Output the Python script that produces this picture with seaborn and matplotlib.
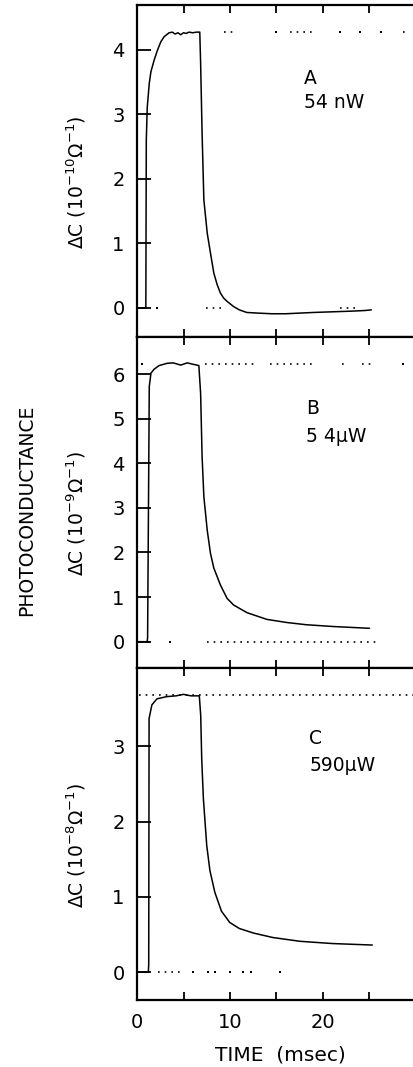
import matplotlib
matplotlib.use("Agg")
import matplotlib.pyplot as plt
import numpy as np
import pandas as pd
import seaborn as sns

# ---------------- data ----------------
tA = [0, 0.95, 1.0, 1.1, 1.32, 1.5, 1.85, 2.2, 2.56, 2.92, 3.45, 3.8, 4.1, 4.4, 4.7, 5.0,
      5.3, 5.6, 6.0, 6.4, 6.75, 6.84, 7.0, 7.19, 7.55, 7.9, 8.26, 8.62, 8.97, 9.33, 9.7,
      10.4, 11.0, 11.8, 13.0, 14.5, 16.0, 17.5, 19.0, 21.0, 23.0, 24.5, 25.2]
vA = [0, 0, 2.6, 3.1, 3.48, 3.66, 3.84, 3.99, 4.12, 4.2, 4.26, 4.27, 4.24, 4.26, 4.23, 4.26,
      4.25, 4.27, 4.26, 4.27, 4.27, 3.8, 2.7, 1.67, 1.16, 0.85, 0.54, 0.36, 0.23, 0.15, 0.1,
      0.02, -0.03, -0.07, -0.08, -0.09, -0.09, -0.08, -0.07, -0.06, -0.05, -0.04, -0.03]

tB = [0, 1.1, 1.14, 1.32, 1.5, 1.85, 2.38, 3.24, 3.9, 4.7, 5.4, 6.0, 6.65, 6.84, 7.0, 7.19,
      7.55, 7.9, 8.26, 8.97, 9.69, 10.4, 11.83, 13.96, 16.1, 18.2, 21.1, 25.0]
vB = [0, 0, 0.1, 5.72, 6.02, 6.11, 6.19, 6.24, 6.25, 6.2, 6.25, 6.22, 6.19, 5.57, 4.15, 3.25,
      2.5, 1.98, 1.65, 1.27, 0.97, 0.82, 0.65, 0.5, 0.43, 0.38, 0.34, 0.3]

tC = [0, 1.22, 1.26, 1.3, 1.6, 2.14, 3.2, 4.2, 5.0, 5.8, 6.7, 6.85, 6.96, 7.14, 7.5, 7.84,
      8.37, 9.08, 9.97, 11.0, 12.5, 14.6, 17.5, 21.0, 25.3]
vC = [0, 0, 0.1, 3.37, 3.55, 3.63, 3.66, 3.67, 3.69, 3.67, 3.67, 3.41, 2.83, 2.3, 1.68, 1.35,
      1.06, 0.81, 0.66, 0.58, 0.52, 0.46, 0.41, 0.38, 0.36]

# dotted reference marks: (level, runs of dots [start, end], single dots)
refA_top_level, refA_top_runs, refA_top_dots = 4.27, [(9.4, 10.7), (16.5, 18.8), (28.6, 29.3)], [15.0, 21.8, 24.0, 26.2]
refA_bot_level, refA_bot_runs, refA_bot_dots = 0.0, [(7.4, 9.0), (21.8, 23.7)], [2.2]
refB_top_level, refB_top_runs, refB_top_dots = 6.22, [(7.3, 12.7), (14.3, 18.8), (22.0, 22.5), (24.2, 25.6)], [0.03, 0.5, 28.6]
refB_bot_level, refB_bot_runs, refB_bot_dots = 0.0, [(7.5, 25.9)], [1.3, 3.6]
refC_top_level, refC_top_runs, refC_top_dots = 3.68, [(0.2, 30.0)], []
refC_bot_level, refC_bot_runs, refC_bot_dots = 0.0, [(2.3, 4.6)], [6.05, 7.67, 8.4, 10.0, 11.45, 12.3, 15.4]

panel_letters = ["A", "B", "C"]
panel_powers = ["54 nW", "5 4μW", "590μW"]
ylabels = [r"ΔC (10$^{-10}$Ω$^{-1}$)", r"ΔC (10$^{-9}$Ω$^{-1}$)", r"ΔC (10$^{-8}$Ω$^{-1}$)"]
yticks = [[0, 1, 2, 3, 4], [0, 1, 2, 3, 4, 5, 6], [0, 1, 2, 3]]
ylims = [(-0.45, 4.69), (-0.59, 6.83), (-0.37, 4.04)]
xticks = [0, 5, 10, 15, 20, 25]
xticklabels = ["0", "", "10", "", "20", ""]

# ---------------- style ----------------
sns.set_theme(style="ticks")
plt.rcParams['font.family'] = ['DejaVu Sans']
plt.rcParams['mathtext.default'] = 'regular'
plt.rcParams['axes.linewidth'] = 1.6
for k in ['text.color', 'axes.labelcolor', 'xtick.color', 'ytick.color', 'axes.edgecolor']:
    plt.rcParams[k] = 'black'

W, H = 414, 1067
fig = plt.figure(figsize=(W / 100, H / 100), dpi=100)

bounds = [(5, 337), (337, 668), (668, 1000)]
curves = [(tA, vA), (tB, vB), (tC, vC)]
refs = [
    [(refA_top_level, refA_top_runs, refA_top_dots), (refA_bot_level, refA_bot_runs, refA_bot_dots)],
    [(refB_top_level, refB_top_runs, refB_top_dots), (refB_bot_level, refB_bot_runs, refB_bot_dots)],
    [(refC_top_level, refC_top_runs, refC_top_dots), (refC_bot_level, refC_bot_runs, refC_bot_dots)],
]
letter_pos = [(0.598, 0.78, 0.705), (0.605, 0.785, 0.698), (0.617, 0.788, 0.706)]

x0_px, px_per_ms = 137, 9.3
for i, (top, bot) in enumerate(bounds):
    ax = fig.add_axes([x0_px / W, 1 - bot / H, 30 * px_per_ms / W, (bot - top) / H])
    t, v = curves[i]
    df = pd.DataFrame({"t": t, "v": v})
    sns.lineplot(data=df, x="t", y="v", ax=ax, color="black", linewidth=1.1,
                 sort=False, estimator=None)
    for level, runs, dots in refs[i]:
        for (a, b) in runs:
            sns.lineplot(x=[a, b], y=[level, level], ax=ax, color="black",
                         linewidth=1.2, linestyle=(0, (1, 3)), estimator=None)
        if dots:
            sns.scatterplot(x=dots, y=[level] * len(dots), ax=ax, color="black",
                            s=3, linewidth=0, marker="s")
    ax.set_xlim(0, 30)
    ax.set_ylim(*ylims[i])
    ax.set_yticks(yticks[i])
    ax.set_xticks(xticks)
    if i == 2:
        ax.set_xticklabels(xticklabels)
    else:
        ax.set_xticklabels([])
    ax.tick_params(axis='x', direction='in', top=True, bottom=True, length=6,
                   width=1.3, labelsize=14, pad=9, colors='black')
    ax.tick_params(axis='y', direction='in', left=True, right=False, length=10,
                   width=1.3, labelsize=14, pad=9, colors='black')
    ax.spines['right'].set_visible(False)
    for s in ['left', 'top', 'bottom']:
        ax.spines[s].set_color('black')
    ax.set_xlabel("")
    ax.set_ylabel(ylabels[i], fontsize=13.5, color='black')
    ax.yaxis.set_label_coords(-0.175, 0.466)
    lx, ly1, ly2 = letter_pos[i]
    ax.text(lx, ly1, panel_letters[i], transform=ax.transAxes, fontsize=13.5,
            ha='left', va='center', color='black')
    ax.text(lx, ly2, panel_powers[i], transform=ax.transAxes, fontsize=13.5,
            ha='left', va='center', color='black')

fig.text(27 / W, 1 - 510 / H, "PHOTOCONDUCTANCE", rotation=90, ha='center',
         va='center', fontsize=13.5, color='black')
fig.text(280 / W, 1 - 1055 / H, "TIME  (msec)", ha='center', va='center',
         fontsize=14.5, color='black')

fig.savefig("out.png", dpi=100)
